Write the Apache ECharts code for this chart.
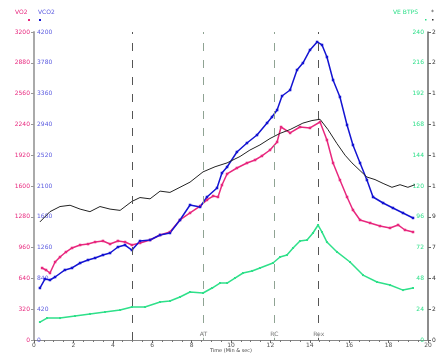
<!DOCTYPE html>
<html>
<head>
<meta charset="utf-8">
<script src="https://cdn.jsdelivr.net/npm/echarts@6/dist/echarts.min.js"></script>
<style>
  html, body { margin: 0; padding: 0; background: #fff; }
  #chart { width: 436px; height: 354px; }
</style>
</head>
<body>
<div id="chart"></div>
<script>
// [time (min), value]
const hr = [
  [0.30, 92], [0.81, 100], [1.32, 104], [1.83, 105], [2.34, 102], [2.84, 100], [3.35, 104],
  [3.86, 102], [4.37, 101], [4.97, 108], [5.38, 111], [5.89, 110], [6.40, 116], [6.90, 115],
  [7.41, 119], [7.92, 123], [8.58, 131], [9.19, 135], [9.80, 138], [10.46, 143], [10.96, 148],
  [11.47, 152], [11.98, 157], [12.49, 161], [13.00, 164], [13.65, 169], [14.11, 171], [14.52, 172],
  [14.92, 164], [15.38, 153], [15.79, 144], [16.14, 138], [16.55, 132], [16.90, 127], [17.31, 125],
  [17.72, 122], [18.17, 119], [18.58, 121], [18.98, 119], [19.34, 121]
]
const vo2 = [
  [0.41, 748], [0.61, 727], [0.81, 696], [1.07, 810], [1.32, 862], [1.62, 914], [1.93, 956],
  [2.34, 987], [2.74, 997], [3.10, 1018], [3.50, 1029], [3.86, 997], [4.26, 1029], [4.62, 1018],
  [4.97, 987], [5.38, 1008], [5.89, 1039], [6.40, 1091], [6.90, 1122], [7.41, 1247], [7.92, 1320],
  [8.43, 1392], [8.78, 1455], [9.09, 1496], [9.34, 1486], [9.54, 1610], [9.80, 1725], [10.30, 1787],
  [10.81, 1839], [11.22, 1870], [11.57, 1912], [11.98, 1974], [12.34, 2057], [12.54, 2213],
  [13.00, 2151], [13.50, 2213], [14.01, 2203], [14.52, 2265], [14.87, 2078], [15.18, 1839],
  [15.53, 1662], [15.89, 1486], [16.19, 1351], [16.55, 1247], [17.06, 1216], [17.56, 1184],
  [18.07, 1164], [18.48, 1195], [18.83, 1143], [19.24, 1122]
]
const vco2 = [
  [0.30, 709], [0.56, 832], [0.81, 818], [1.07, 859], [1.57, 955], [1.93, 982], [2.34, 1050],
  [2.74, 1091], [3.10, 1118], [3.50, 1159], [3.86, 1186], [4.26, 1268], [4.62, 1295], [4.97, 1227],
  [5.38, 1350], [5.89, 1364], [6.40, 1432], [6.90, 1459], [7.41, 1636], [7.92, 1841], [8.43, 1814],
  [8.78, 1950], [9.29, 2073], [9.54, 2277], [9.80, 2359], [10.30, 2564], [10.81, 2686], [11.32, 2795],
  [11.83, 2959], [12.08, 3041], [12.34, 3136], [12.59, 3327], [13.00, 3409], [13.35, 3682],
  [13.65, 3777], [14.01, 3955], [14.37, 4064], [14.62, 4023], [14.87, 3859], [15.18, 3545],
  [15.53, 3314], [15.89, 2932], [16.19, 2659], [16.55, 2414], [16.90, 2182], [17.21, 1950],
  [17.72, 1868], [18.22, 1800], [18.73, 1732], [19.24, 1664]
]
const ve = [
  [0.30, 14.0], [0.66, 17.1], [1.32, 17.1], [2.08, 18.7], [2.84, 20.3], [3.60, 21.8], [4.37, 23.4],
  [4.97, 25.7], [5.63, 25.7], [6.40, 29.6], [6.90, 30.4], [7.41, 33.5], [7.92, 37.4], [8.58, 36.6],
  [9.04, 40.5], [9.44, 44.4], [9.80, 44.4], [10.20, 48.3], [10.61, 52.2], [11.07, 53.8], [11.47, 56.1],
  [12.13, 60.0], [12.49, 64.7], [12.84, 66.2], [13.15, 71.7], [13.50, 77.1], [13.86, 77.9],
  [14.16, 83.4], [14.42, 89.6], [14.62, 84.1], [14.87, 76.3], [15.38, 68.6], [16.04, 60.8],
  [16.70, 50.6], [17.41, 45.2], [18.07, 42.8], [18.73, 38.9], [19.24, 40.5]
]
const markers = [
  { t: 5.0, label: '', color: '#555' },
  { t: 8.6, label: 'AT', color: '#8fa393' },
  { t: 12.2, label: 'RC', color: '#8fa393' },
  { t: 14.45, label: 'Rex', color: '#555' }
]

const PINK = '#e8287e'
const BLUE = '#1414d2'
const GREEN = '#2fe08a'
const small = { fontSize: 6, fontFamily: 'DejaVu Sans' }
const plain = v => String(v)

const chart = echarts.init(document.getElementById('chart'))

const option = {
  animation: false,
  grid: { left: 34, right: 8, top: 32, bottom: 14, outerBoundsMode: 'none', containLabel: false },
  xAxis: {
    type: 'value',
    min: 0,
    max: 20,
    interval: 2,
    name: 'Time (Min & sec)',
    nameLocation: 'middle',
    nameGap: 8,
    nameMoveOverlap: false,
    nameTextStyle: { ...small, fontSize: 5, color: '#444', verticalAlign: 'top' },
    axisLine: { lineStyle: { color: '#888', width: 1 } },
    axisTick: { length: 3, lineStyle: { color: '#666' } },
    minorTick: { show: true, splitNumber: 4, length: 2, lineStyle: { color: '#777' } },
    axisLabel: { ...small, color: '#555', margin: 2, formatter: plain },
    splitLine: { show: false }
  },
  yAxis: [
    {
      type: 'value', min: 0, max: 3200, interval: 320, position: 'left',
      axisLine: { show: true, lineStyle: { color: '#aaa', width: 2 } },
      axisTick: { show: true, length: 3, lineStyle: { color: '#999' } },
      axisLabel: { ...small, color: PINK, margin: 4, formatter: plain },
      splitLine: { show: false }
    },
    {
      type: 'value', min: 0, max: 4200, interval: 420, position: 'left',
      axisLine: { show: false },
      axisTick: { show: false },
      axisLabel: { ...small, color: '#5a5ae0', inside: true, margin: 3, formatter: plain },
      splitLine: { show: false }
    },
    {
      type: 'value', min: 0, max: 240, interval: 24, position: 'right',
      axisLine: { show: true, lineStyle: { color: '#666', width: 1.5 } },
      axisTick: { show: true, length: 3, lineStyle: { color: '#666' } },
      axisLabel: { ...small, color: GREEN, inside: true, margin: 4, formatter: plain },
      splitLine: { show: false }
    },
    {
      type: 'value', min: 0, max: 240, interval: 24, position: 'right',
      axisLine: { show: false },
      axisTick: { show: false },
      axisLabel: { ...small, color: '#333', margin: 4, formatter: plain },
      splitLine: { show: false }
    }
  ],
  graphic: [
    { type: 'text', left: 15, top: 9, style: { text: 'VO2', fill: PINK, font: '6px DejaVu Sans' } },
    { type: 'text', left: 38, top: 9, style: { text: 'VCO2', fill: '#5a5ae0', font: '6px DejaVu Sans' } },
    { type: 'rect', shape: { x: 28, y: 19, width: 2, height: 2 }, style: { fill: PINK } },
    { type: 'rect', shape: { x: 39, y: 19, width: 2, height: 2 }, style: { fill: BLUE } },
    { type: 'text', left: 393, top: 9, style: { text: 'VE BTPS', fill: GREEN, font: '6px DejaVu Sans' } },
    { type: 'text', left: 431, top: 9, style: { text: '*', fill: '#333', font: '6px DejaVu Sans' } },
    { type: 'rect', shape: { x: 425, y: 19, width: 1.5, height: 1.5 }, style: { fill: GREEN } },
    { type: 'rect', shape: { x: 432, y: 19, width: 1.5, height: 1.5 }, style: { fill: '#333' } }
  ],
  series: [
    {
      name: 'markers',
      type: 'line',
      data: [],
      z: 1,
      markLine: {
        silent: true,
        symbol: 'none',
        label: { show: false },
        data: markers.map(m => ({
          xAxis: m.t,
          lineStyle: { color: m.color, type: [8, 9], width: 1 }
        }))
      }
    },
    {
      name: 'events',
      type: 'scatter',
      z: 5,
      symbolSize: 0,
      data: markers.filter(m => m.label).map(m => ({ value: [m.t, 62], name: m.label })),
      label: {
        show: true,
        formatter: p => p.name,
        position: 'inside',
        ...small,
        color: '#555',
        backgroundColor: '#fff',
        padding: [1, 1]
      }
    },
    {
      name: 'VE BTPS', type: 'line', yAxisIndex: 2, data: ve, z: 3,
      symbol: 'rect', symbolSize: 2, showAllSymbol: true,
      lineStyle: { color: GREEN, width: 1.5 }, itemStyle: { color: GREEN }
    },
    {
      name: 'VO2', type: 'line', yAxisIndex: 0, data: vo2, z: 3,
      symbol: 'rect', symbolSize: 2.5, showAllSymbol: true,
      lineStyle: { color: PINK, width: 1.5 }, itemStyle: { color: PINK }
    },
    {
      name: 'VCO2', type: 'line', yAxisIndex: 1, data: vco2, z: 3,
      symbol: 'rect', symbolSize: 2.5, showAllSymbol: true,
      lineStyle: { color: BLUE, width: 1.5 }, itemStyle: { color: BLUE }
    },
    {
      name: 'HR', type: 'line', yAxisIndex: 3, data: hr, z: 4,
      symbol: 'none',
      lineStyle: { color: '#222', width: 1 }
    }
  ]
}

chart.setOption(option)
</script>
</body>
</html>
